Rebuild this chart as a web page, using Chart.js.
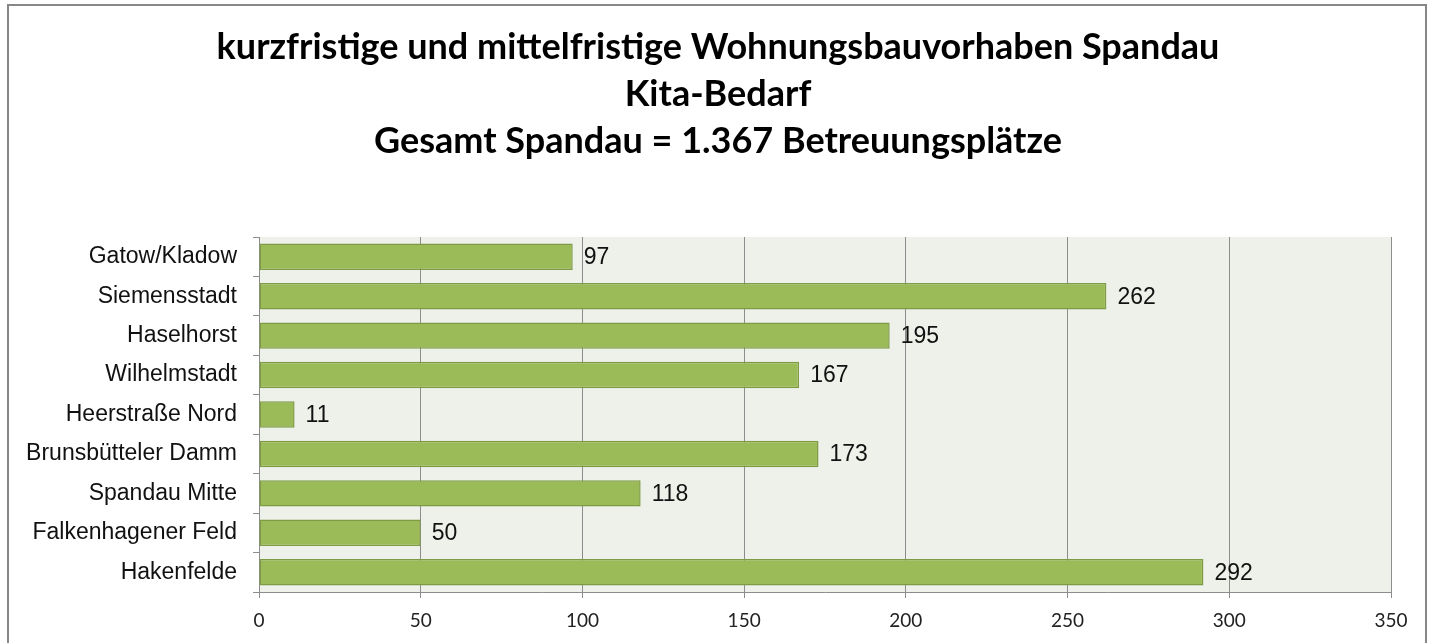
<!DOCTYPE html>
<html>
<head>
<meta charset="utf-8">
<script src="https://cdn.jsdelivr.net/npm/chart.js@4/dist/chart.umd.min.js"></script>
<style>
  html, body { margin: 0; padding: 0; background: #fff; }
  #c { display: block; }
</style>
</head>
<body>
<canvas id="c" width="1436" height="643"></canvas>
<script>
const titleLines = [
  'kurzfristige und mittelfristige Wohnungsbauvorhaben Spandau',
  'Kita-Bedarf',
  'Gesamt Spandau = 1.367 Betreuungsplätze'
];
const categories = [
  'Gatow/Kladow', 'Siemensstadt', 'Haselhorst', 'Wilhelmstadt', 'Heerstraße Nord',
  'Brunsbütteler Damm', 'Spandau Mitte', 'Falkenhagener Feld', 'Hakenfelde'
];
const values = [97, 262, 195, 167, 11, 173, 118, 50, 292];
const xMin = 0;
const xMax = 350;
const xStep = 50;

const frameAndBackground = {
  id: 'frameAndBackground',
  beforeDraw(chart) {
    const { ctx, chartArea } = chart;
    ctx.save();
    ctx.fillStyle = '#ffffff';
    ctx.fillRect(0, 0, chart.width, chart.height);
    ctx.fillStyle = '#EEF1E9';
    ctx.fillRect(chartArea.left, chartArea.top, chartArea.right - chartArea.left, chartArea.bottom - chartArea.top);
    ctx.strokeStyle = '#878787';
    ctx.lineWidth = 2;
    ctx.strokeRect(8, 5, 1418, 700);
    ctx.restore();
  }
};

const centeredTitle = {
  id: 'centeredTitle',
  afterDraw(chart, args, opts) {
    const { ctx } = chart;
    ctx.save();
    ctx.font = 'bold 36px Lato, "Open Sans", sans-serif';
    ctx.fillStyle = '#000000';
    ctx.textAlign = 'center';
    ctx.textBaseline = 'middle';
    const cx = chart.width / 2;
    opts.lines.forEach((line, i) => {
      ctx.fillText(line, cx, opts.firstY + i * opts.lineHeight);
    });
    ctx.restore();
  }
};

const valueLabels = {
  id: 'valueLabels',
  afterDatasetsDraw(chart) {
    const { ctx } = chart;
    const meta = chart.getDatasetMeta(0);
    ctx.save();
    ctx.font = '23px "Liberation Sans", Arial, sans-serif';
    ctx.fillStyle = '#111111';
    ctx.textAlign = 'left';
    ctx.textBaseline = 'middle';
    meta.data.forEach((bar, i) => {
      ctx.fillText(String(chart.data.datasets[0].data[i]), bar.x + 11, bar.y + 1);
    });
    ctx.restore();
  }
};

new Chart(document.getElementById('c'), {
  type: 'bar',
  data: {
    labels: categories,
    datasets: [{
      data: values,
      backgroundColor: '#9BBB59',
      borderColor: '#7D9B45',
      borderWidth: 1.5,
      borderSkipped: false,
      barPercentage: 0.67,
      categoryPercentage: 1
    }]
  },
  options: {
    indexAxis: 'y',
    responsive: false,
    animation: false,
    layout: { padding: { left: 0, right: 45, top: 237, bottom: 0 } },
    plugins: {
      legend: { display: false },
      tooltip: { enabled: false },
      title: { display: false },
      centeredTitle: { lines: titleLines, firstY: 47, lineHeight: 47 }
    },
    scales: {
      x: {
        type: 'linear',
        min: xMin,
        max: xMax,
        ticks: {
          stepSize: xStep,
          color: '#222222',
          font: { family: 'Lato, sans-serif', size: 19 },
          padding: 11
        },
        grid: {
          color: '#8C8C8C',
          lineWidth: 1,
          drawTicks: true,
          tickLength: 6
        },
        border: { display: true, color: '#8C8C8C', width: 1 },
        afterFit(scale) { scale.height = 51; }
      },
      y: {
        type: 'category',
        ticks: {
          color: '#111111',
          font: { family: '"Liberation Sans", Arial, sans-serif', size: 23 },
          padding: 16
        },
        grid: {
          display: true,
          drawOnChartArea: false,
          drawTicks: true,
          tickLength: 6,
          offset: true,
          color: '#8C8C8C'
        },
        border: { display: true, color: '#8C8C8C', width: 1 },
        afterFit(scale) { scale.width = 259; }
      }
    }
  },
  plugins: [frameAndBackground, centeredTitle, valueLabels]
});
</script>
</body>
</html>
